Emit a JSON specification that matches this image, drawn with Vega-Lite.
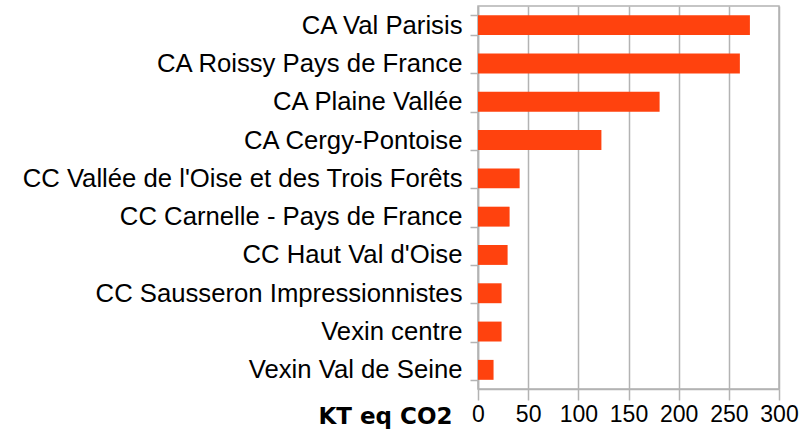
{
  "$schema": "https://vega.github.io/schema/vega-lite/v6.json",
  "width": 301,
  "height": 383,
  "autosize": {"type": "none"},
  "padding": {"left": 478, "top": 6, "right": 30, "bottom": 44},
  "background": "white",
  "config": {
    "font": "Liberation Sans",
    "view": {"stroke": "#b3b3b3", "strokeWidth": 1.5}
  },
  "data": {
    "values": [
      {"territoire": "CA Val Parisis", "valeur": 271},
      {"territoire": "CA Roissy Pays de France", "valeur": 261},
      {"territoire": "CA Plaine Vallée", "valeur": 181},
      {"territoire": "CA Cergy-Pontoise", "valeur": 123},
      {"territoire": "CC Vallée de l'Oise et des Trois Forêts", "valeur": 41.5},
      {"territoire": "CC Carnelle - Pays de France", "valeur": 31.5},
      {"territoire": "CC Haut Val d'Oise", "valeur": 29.5},
      {"territoire": "CC Sausseron Impressionnistes", "valeur": 23.5},
      {"territoire": "Vexin centre", "valeur": 23.5},
      {"territoire": "Vexin Val de Seine", "valeur": 15.5}
    ]
  },
  "mark": {"type": "bar", "color": "#ff420e"},
  "encoding": {
    "y": {
      "field": "territoire",
      "type": "nominal",
      "sort": null,
      "scale": {"paddingInner": 0.48, "paddingOuter": 0.24},
      "axis": {
        "title": null,
        "labelFontSize": 25.7,
        "labelColor": "#000000",
        "labelPadding": 8,
        "tickBand": "extent",
        "tickSize": 8,
        "tickColor": "#b3b3b3",
        "tickWidth": 1.5,
        "domainColor": "#b3b3b3",
        "domainWidth": 1.5,
        "labelLimit": 600
      }
    },
    "x": {
      "field": "valeur",
      "type": "quantitative",
      "scale": {"domain": [0, 300], "nice": false},
      "axis": {
        "values": [0, 50, 100, 150, 200, 250, 300],
        "title": "KT eq CO2",
        "titleFont": "DejaVu Sans",
        "titleFontSize": 23,
        "titleFontWeight": "bold",
        "titleColor": "#000000",
        "titleAlign": "right",
        "titleBaseline": "alphabetic",
        "titleAnchor": "start",
        "titleX": -26,
        "titleY": 34,
        "labelFontSize": 23,
        "labelColor": "#000000",
        "labelPadding": 3,
        "labelFlush": false,
        "tickSize": 11,
        "tickColor": "#b3b3b3",
        "tickWidth": 1.5,
        "domainColor": "#b3b3b3",
        "domainWidth": 1.5,
        "grid": true,
        "gridColor": "#b3b3b3",
        "gridWidth": 1.5
      }
    }
  }
}
